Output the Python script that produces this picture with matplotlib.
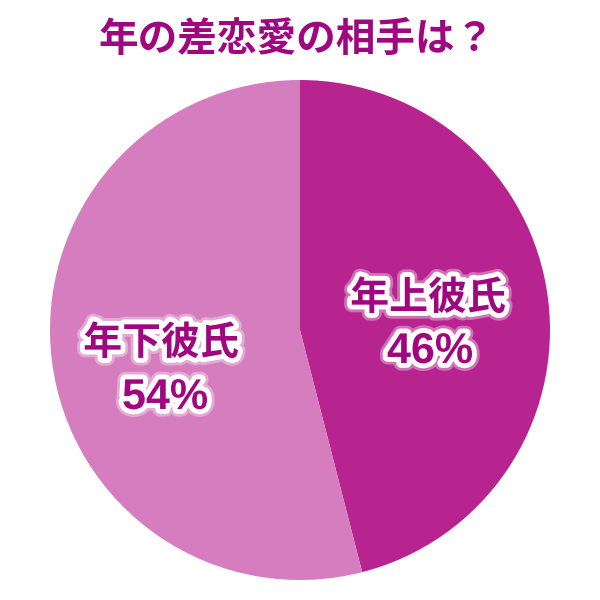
import matplotlib.pyplot as plt
import matplotlib.patheffects as pe

plt.rcParams['font.family'] = ['Noto Sans CJK JP', 'DejaVu Sans']

# data
labels = ['年上彼氏', '年下彼氏']
values = [46, 54]
colors = ['#B8248F', '#D57DBF']
title = '年の差恋愛の相手は？'
text_color = '#A0067F'

# where the names and percentages sit (layout only)
name_pos = [(428, 302), (161, 257)]
pct_pos = [(430, 248), (165, 202)]

fig = plt.figure(figsize=(6, 6), dpi=100)
ax = fig.add_axes([0, 0, 1, 1])

wedges, texts, pcts = ax.pie(values, labels=labels, colors=colors,
                             autopct='%d%%',
                             startangle=90, counterclock=False,
                             center=(300, 270), radius=250,
                             labeldistance=0.5, pctdistance=0.5, frame=True,
                             wedgeprops=dict(linewidth=0))
ax.set_xlim(0, 600)
ax.set_ylim(0, 600)
ax.set_aspect('equal')
ax.axis('off')

glow = [pe.Stroke(linewidth=11, foreground='white', alpha=0.35),
        pe.Stroke(linewidth=7, foreground='white'),
        pe.Normal()]
for t, pos in zip(texts, name_pos):
    t.set_position(pos)
    t.set_fontsize(28)
    t.set_fontweight('bold')
    t.set_color(text_color)
    t.set_ha('center')
    t.set_va('center')
    t.set_path_effects(glow)
for t, pos in zip(pcts, pct_pos):
    t.set_position(pos)
    t.set_fontsize(31)
    t.set_fontweight('bold')
    t.set_family(['Liberation Sans', 'DejaVu Sans'])
    t.set_color(text_color)
    t.set_ha('center')
    t.set_va('center')
    t.set_path_effects(glow)

ax.text(297, 560, title, ha='center', va='center', fontsize=28.5,
        fontweight='bold', color=text_color)

fig.savefig('out.png', dpi=100)
